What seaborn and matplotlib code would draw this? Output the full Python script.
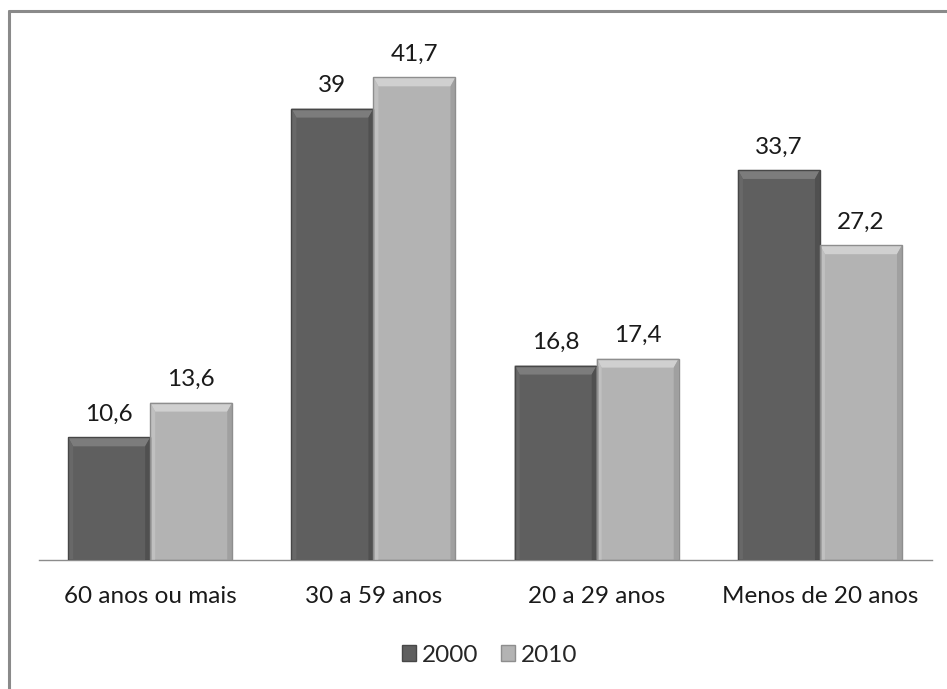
import matplotlib
matplotlib.use("Agg")
import matplotlib.pyplot as plt
from matplotlib.patches import Polygon, Rectangle
from matplotlib.transforms import IdentityTransform
import seaborn as sns
import pandas as pd

categories = ["60 anos ou mais", "30 a 59 anos", "20 a 29 anos", "Menos de 20 anos"]
values_2000 = [10.6, 39.0, 16.8, 33.7]
values_2010 = [13.6, 41.7, 17.4, 27.2]
years = ["2000", "2010"]

df = pd.DataFrame({
    "faixa": categories * 2,
    "valor": values_2000 + values_2010,
    "ano": [years[0]] * 4 + [years[1]] * 4,
})

sns.set_theme(style="white")
plt.rcParams["font.family"] = ["Lato", "DejaVu Sans"]

face = {"2000": "#5f5f5f", "2010": "#b3b3b3"}
top_hl = {"2000": "#7c7c7c", "2010": "#d0d0d0"}
left_hl = {"2000": "#686868", "2010": "#c0c0c0"}
right_sh = {"2000": "#505050", "2010": "#a0a0a0"}
edge = {"2000": "#474747", "2010": "#8e8e8e"}

fig = plt.figure(figsize=(9.47, 6.89), dpi=100)
ax = fig.add_axes([0.0407, 0.1872, 0.943, 0.756])

sns.barplot(data=df, x="faixa", y="valor", hue="ano", palette=face,
            width=0.735, gap=0, saturation=1, ax=ax, legend=False,
            edgecolor="none", linewidth=0)

ax.set_ylim(0, 45)
ax.set_xlim(-0.5, 3.5)
ax.set_xlabel("")
ax.set_ylabel("")
ax.set_yticks([])
for s in ["top", "right", "left"]:
    ax.spines[s].set_visible(False)
ax.spines["bottom"].set_color("#8c8c8c")
ax.spines["bottom"].set_linewidth(1.0)
ax.tick_params(axis="x", length=0, pad=19, labelsize=17.5, labelcolor="#1a1a1a")

# value labels + bevel decoration on each bar
fig.canvas.draw()
bars = [p for p in ax.patches if isinstance(p, Rectangle)]
series_of_bar = [years[0]] * 4 + [years[1]] * 4
vals = values_2000 + values_2010
for bar, yr, v in zip(bars, series_of_bar, vals):
    x0, y0 = bar.get_x(), bar.get_y()
    w, h = bar.get_width(), bar.get_height()
    (px0, py0) = ax.transData.transform((x0, y0))
    (px1, py1) = ax.transData.transform((x0 + w, y0 + h))
    bt, bs = 9, 5
    ax.add_patch(Polygon([(px0, py1), (px1, py1), (px1 - bs, py1 - bt), (px0 + bs, py1 - bt)],
                         closed=True, transform=IdentityTransform(),
                         facecolor=top_hl[yr], edgecolor="none", zorder=3))
    ax.add_patch(Polygon([(px0, py0), (px0, py1), (px0 + bs, py1 - bt), (px0 + bs, py0)],
                         closed=True, transform=IdentityTransform(),
                         facecolor=left_hl[yr], edgecolor="none", zorder=3))
    ax.add_patch(Polygon([(px1, py0), (px1, py1), (px1 - bs, py1 - bt), (px1 - bs, py0)],
                         closed=True, transform=IdentityTransform(),
                         facecolor=right_sh[yr], edgecolor="none", zorder=3))
    ax.add_patch(Rectangle((px0, py0), px1 - px0, py1 - py0, transform=IdentityTransform(),
                           facecolor="none", edgecolor=edge[yr], linewidth=1.0, zorder=4))
    label = f"{v:g}".replace(".", ",")
    ax.annotate(label, (x0 + w / 2, y0 + h), xytext=(0, 9), textcoords="offset points",
                ha="center", va="bottom", fontsize=17.5, color="#1a1a1a")

# legend swatches
handles = [Rectangle((0, 0), 1, 1, facecolor=face[y], edgecolor=edge[y], linewidth=1.0) for y in years]
fig.legend(handles, years, loc="center", bbox_to_anchor=(0.517, 0.049), ncol=2, frameon=False,
           fontsize=17.5, handlelength=0.6, handleheight=0.6, handletextpad=0.25, columnspacing=0.9)

# outer frame (top and left edges visible)
fig.add_artist(plt.Line2D([8.5 / 947, 1.0], [1 - 10.5 / 689, 1 - 10.5 / 689],
                          transform=fig.transFigure, color="#8a8a8a", linewidth=2.2))
fig.add_artist(plt.Line2D([8.5 / 947, 8.5 / 947], [1 - 10.5 / 689, 0.0],
                          transform=fig.transFigure, color="#8a8a8a", linewidth=2.2))

fig.savefig("out.png", dpi=100, facecolor="white")
